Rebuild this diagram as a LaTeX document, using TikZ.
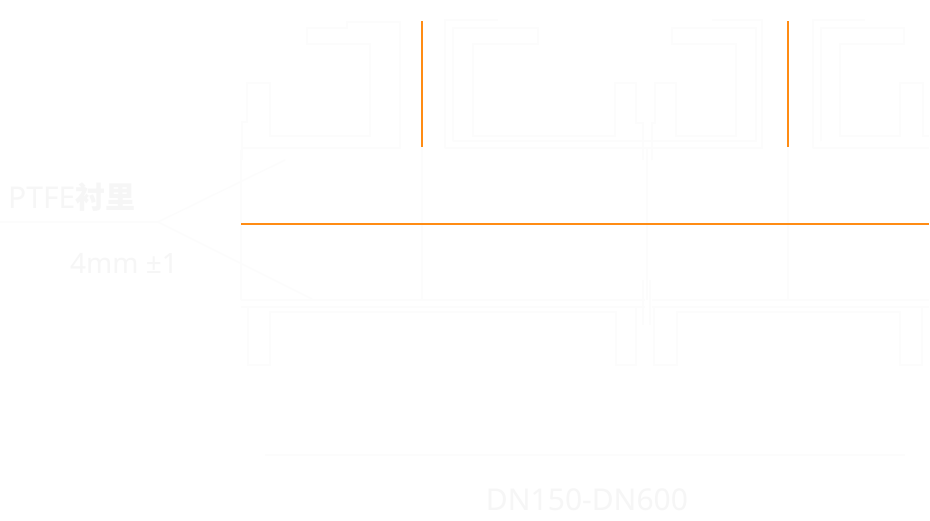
\documentclass[tikz,border=0pt]{standalone}
\usepackage{fontspec}
\setmainfont{Noto Sans}
\newfontfamily\cjk{Noto Sans CJK SC}
\definecolor{accent}{RGB}{255,140,20}
\definecolor{faint}{RGB}{246,246,246}
\definecolor{faintline}{RGB}{252,252,252}
\tikzset{
  dimline/.style={draw=accent, line width=1.5pt},
  profile/.style={draw=faintline, line width=1.5pt},
  leader/.style={draw=faintline, line width=1.2pt},
  lbl/.style={text=faint, inner sep=0pt, anchor=west},
}
\begin{document}
\begin{tikzpicture}[x=1pt,y=-1pt]
\fill[white] (0,0) rectangle (930,520);
\useasboundingbox (0,0) rectangle (930,520);

% ---------- upper row: lining profile ----------
% left piece
\draw[profile] (242,160) -- (242,122) -- (247,122) -- (247,83) -- (270,83) -- (270,136)
  -- (370,136) -- (370,44) -- (307,44) -- (307,28) -- (347,28) -- (347,22) -- (400,22) -- (400,148) -- (242,148);
% middle piece
\draw[profile] (445,148) -- (445,20) -- (498,20);
\draw[profile] (453,141) -- (453,28) -- (538,28) -- (538,44) -- (473,44) -- (473,136) -- (615,136)
  -- (615,83) -- (636,83) -- (636,123) -- (643,123) -- (643,160);
\draw[profile] (652,160) -- (652,123) -- (655,123) -- (655,83) -- (676,83) -- (676,136) -- (736,136)
  -- (736,44) -- (672,44) -- (672,28) -- (756,28) -- (756,141) -- (453,141);
\draw[profile] (712,20) -- (762,20) -- (762,148) -- (445,148);
% right piece
\draw[profile] (813,148) -- (813,20) -- (865,20);
\draw[profile] (821,141) -- (821,28) -- (904,28) -- (904,44) -- (840,44) -- (840,136) -- (900,136)
  -- (900,83) -- (923,83) -- (923,136) -- (929,136);
\draw[profile] (813,148) -- (929,148);

% faint extension lines
\draw[leader] (422,147) -- (422,300);
\draw[leader] (647,147) -- (647,300);
\draw[leader] (788,147) -- (788,300);
\draw[leader] (241,150) -- (241,300);

% ---------- dimension lines (orange) ----------
\coordinate (t1) at (422,21);
\coordinate (b1) at (422,147);
\coordinate (t2) at (788,21);
\coordinate (b2) at (788,147);
\coordinate (hl) at (241,224);
\coordinate (hr) at (929,224);
\draw[dimline] (t1) -- (b1);
\draw[dimline] (t2) -- (b2);
\draw[dimline] (hl) -- (hr);

% ---------- lower row: lining profile ----------
\draw[profile] (241,300) -- (645,300);
\draw[profile] (241,307) -- (645,307);
\draw[profile] (652,300) -- (929,300);
\draw[profile] (652,307) -- (929,307);
\draw[profile] (248,307) -- (248,365) -- (270,365) -- (270,312) -- (616,312) -- (616,365) -- (636,365) -- (636,307);
\draw[profile] (643,280) -- (643,325);
\draw[profile] (650,280) -- (650,325);
\draw[profile] (654,307) -- (654,365) -- (677,365) -- (677,312) -- (900,312) -- (900,365) -- (922,365) -- (922,307);

% bottom faint rule
\coordinate (rl) at (265,455);
\coordinate (rr) at (905,455);
\draw[leader] (rl) -- (rr);

% ---------- labels ----------
\node[lbl] (ptfe) at (8,197) {\fontsize{30}{32}\selectfont\bfseries PTFE{\cjk\bfseries 衬里}};
\node[lbl] (thk) at (70,263) {\fontsize{28}{30}\selectfont 4mm ±1};
\node[text=faint, inner sep=0pt] (dn) at (587,500) {\fontsize{30}{32}\selectfont DN150-DN600};

% leaders
\coordinate (knee) at (158,222);
\coordinate (up) at (285,160);
\coordinate (down) at (312,299);
\draw[leader] (0,222) -- (knee);
\draw[leader] (knee) -- (up);
\draw[leader] (knee) -- (down);
\end{tikzpicture}
\end{document}
